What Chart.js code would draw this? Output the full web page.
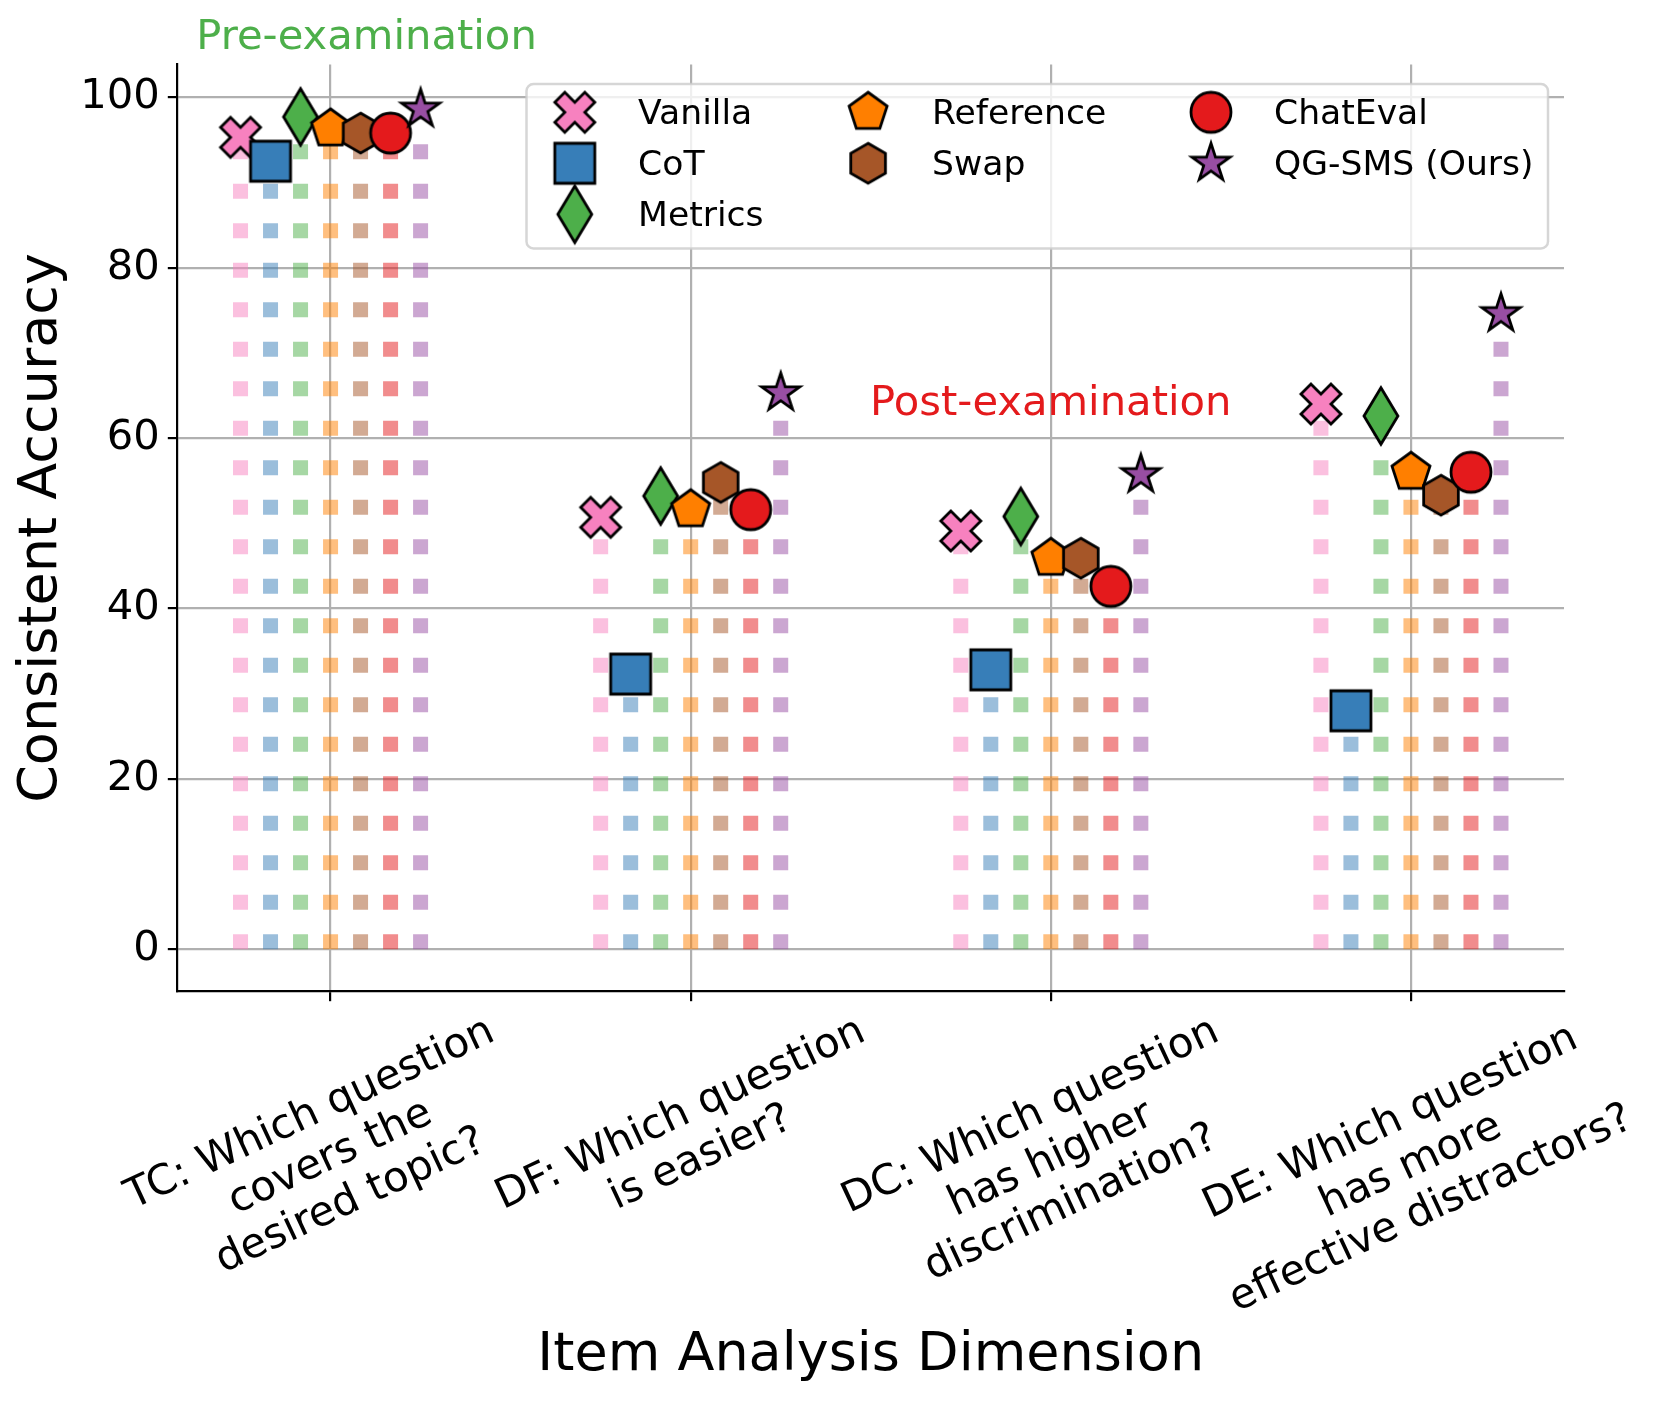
<!DOCTYPE html>
<html><head><meta charset="utf-8">
<script src="https://cdn.jsdelivr.net/npm/chart.js@4.4.0/dist/chart.umd.min.js"></script>
<style>html,body{margin:0;padding:0;background:#fff;} canvas{display:block;}</style>
</head><body>
<canvas id="c" width="1661" height="1401"></canvas>
<script>
// ---------------- data ----------------
const categories = [
  ["TC: Which question", "covers the", "desired topic?"],
  ["DF: Which question", "is easier?"],
  ["DC: Which question", "has higher", "discrimination?"],
  ["DE: Which question", "has more", "effective distractors?"]
];
const seriesNames = ["Vanilla", "CoT", "Metrics", "Reference", "Swap", "ChatEval", "QG-SMS (Ours)"];
const vanilla   = [95.3, 50.7, 49.1, 64.0];
const cot       = [92.5, 32.3, 32.8, 28.0];
const metrics   = [97.7, 53.2, 50.8, 62.6];
const reference = [96.3, 51.6, 45.9, 56.0];
const swap      = [95.8, 54.8, 45.9, 53.3];
const chatEval  = [95.8, 51.6, 42.6, 56.0];
const qgSms     = [98.6, 65.3, 55.7, 74.6];
const yTicks = [0, 20, 40, 60, 80, 100];
const xTicks = [0, 1, 2, 3];
const annotations = [
  { text: "Pre-examination", x: 0.1, y: 105.7, color: "#4daf4a" },
  { text: "Post-examination", x: 2.0, y: 62.74, color: "#e41a1c" }
];

// ---------------- styles ----------------
const seriesValues = [vanilla, cot, metrics, reference, swap, chatEval, qgSms];
const colors = ['#f781bf', '#377eb8', '#4daf4a', '#ff7f00', '#a65628', '#e41a1c', '#984ea3'];
const markerShapes = ['X', 's', 'd', 'p', 'h', 'o', '*'];
const FONT = "'DejaVu Sans', 'Liberation Sans', sans-serif";

function rgba(hex, a) {
  const n = parseInt(hex.slice(1), 16);
  return `rgba(${(n >> 16) & 255},${(n >> 8) & 255},${n & 255},${a})`;
}

function makeMarker(shape, fill) {
  const M = 40, lw = 2.8, S = 72;
  const cv = document.createElement('canvas');
  cv.width = S; cv.height = S;
  const ctx = cv.getContext('2d');
  ctx.translate(S / 2, S / 2);
  ctx.beginPath();
  const poly = pts => { pts.forEach((p, i) => i ? ctx.lineTo(p[0], p[1]) : ctx.moveTo(p[0], p[1])); ctx.closePath(); };
  const regular = (n, r) => { const pts = []; for (let i = 0; i < n; i++) { const a = -Math.PI / 2 + i * 2 * Math.PI / n; pts.push([r * Math.cos(a), r * Math.sin(a)]); } return pts; };
  switch (shape) {
    case 'o': ctx.arc(0, 0, M / 2, 0, 2 * Math.PI); break;
    case 's': ctx.rect(-M / 2, -M / 2, M, M); break;
    case 'd': { const h = M * Math.SQRT2 / 2, w = 0.6 * h; poly([[0, -h], [w, 0], [0, h], [-w, 0]]); break; }
    case 'p': poly(regular(5, M / 2)); break;
    case 'h': poly(regular(6, M / 2)); break;
    case '*': { const pts = []; for (let i = 0; i < 10; i++) { const r = i % 2 ? M / 2 * 0.381966 : M / 2; const a = -Math.PI / 2 + i * Math.PI / 5; pts.push([r * Math.cos(a), r * Math.sin(a)]); } poly(pts); break; }
    case 'X': { const v = [[-1,-2],[0,-1],[1,-2],[2,-1],[1,0],[2,1],[1,2],[0,1],[-1,2],[-2,1],[-1,0],[-2,-1]]; poly(v.map(p => [p[0] * M / 4, p[1] * M / 4])); break; }
  }
  ctx.fillStyle = fill; ctx.fill();
  ctx.lineWidth = lw; ctx.strokeStyle = '#000'; ctx.lineJoin = 'miter'; ctx.stroke();
  return cv;
}
const markerImages = markerShapes.map((s, i) => makeMarker(s, colors[i]));

// ---------------- datasets ----------------
const step = 1 / 12;
const datasets = [];
seriesValues.forEach((vals, s) => {
  const off = (s - 3) * step;
  vals.forEach((v, c) => {
    datasets.push({
      label: '', data: [{ x: c + off, y: 0 }, { x: c + off, y: v }],
      borderColor: rgba(colors[s], 0.5), borderWidth: 15, borderDash: [15, 24.5],
      borderCapStyle: 'butt', pointRadius: 0, order: 100, clip: false, tension: 0, fill: false
    });
  });
  datasets.push({
    label: seriesNames[s], showLine: false,
    data: vals.map((v, c) => ({ x: c + off, y: v })),
    pointStyle: markerImages[s], pointRadius: 20, order: 6 - s, clip: false
  });
});

// ---------------- plugins ----------------
const xLabelPlugin = {
  id: 'xLabels',
  afterDraw(chart) {
    const ctx = chart.ctx, xs = chart.scales.x;
    const fs = 41.7, ls = 1.148 * fs, th = 25 * Math.PI / 180;
    const y0 = chart.chartArea.bottom + 9.7 + 9.7;
    ctx.save();
    ctx.font = `${fs}px ${FONT}`;
    ctx.fillStyle = '#000';
    ctx.textAlign = 'center';
    ctx.textBaseline = 'alphabetic';
    categories.forEach((lines, i) => {
      const W = Math.max(...lines.map(l => ctx.measureText(l).width));
      const H = (lines.length - 1) * ls + 0.996 * fs;
      const bh = W * Math.sin(th) + H * Math.cos(th);
      const cx = xs.getPixelForValue(xTicks[i]);
      const cy = y0 + bh / 2;
      ctx.save();
      ctx.translate(cx, cy);
      ctx.rotate(-th);
      lines.forEach((l, k) => ctx.fillText(l, 0, -H / 2 + 0.76 * fs + k * ls));
      ctx.restore();
    });
    ctx.restore();
  }
};

const annotationPlugin = {
  id: 'annots',
  afterDraw(chart) {
    const ctx = chart.ctx, xs = chart.scales.x, ys = chart.scales.y;
    ctx.save();
    ctx.font = `41.7px ${FONT}`;
    ctx.textAlign = 'center';
    ctx.textBaseline = 'alphabetic';
    annotations.forEach(a => {
      ctx.fillStyle = a.color;
      ctx.fillText(a.text, xs.getPixelForValue(a.x), ys.getPixelForValue(a.y));
    });
    ctx.restore();
  }
};

const legendPlugin = {
  id: 'customLegend',
  afterDraw(chart) {
    const ctx = chart.ctx, ca = chart.chartArea;
    const x1 = ca.right - 16, x0 = x1 - 1021.5, y0 = ca.top + 19.5, y1 = y0 + 164.5, r = 7;
    ctx.save();
    ctx.beginPath();
    ctx.moveTo(x0 + r, y0); ctx.lineTo(x1 - r, y0); ctx.arcTo(x1, y0, x1, y0 + r, r);
    ctx.lineTo(x1, y1 - r); ctx.arcTo(x1, y1, x1 - r, y1, r);
    ctx.lineTo(x0 + r, y1); ctx.arcTo(x0, y1, x0, y1 - r, r);
    ctx.lineTo(x0, y0 + r); ctx.arcTo(x0, y0, x0 + r, y0, r);
    ctx.closePath();
    ctx.fillStyle = 'rgba(255,255,255,0.8)'; ctx.fill();
    ctx.lineWidth = 2.5; ctx.strokeStyle = 'rgba(204,204,204,0.8)'; ctx.stroke();
    const colMarkerX = [x0 + 48.3, x0 + 341.6, x0 + 684.5];
    const colTextX = [x0 + 111.6, x0 + 405.6, x0 + 747.5];
    const rowY = [y0 + 28.3, y0 + 79.3, y0 + 130.3];
    const layout = [[0, 0], [0, 1], [0, 2], [1, 0], [1, 1], [2, 0], [2, 1]];
    ctx.font = `34.6px ${FONT}`;
    ctx.fillStyle = '#000';
    ctx.textAlign = 'left';
    ctx.textBaseline = 'alphabetic';
    seriesNames.forEach((name, i) => {
      const [c, rr] = layout[i];
      const img = markerImages[i];
      ctx.drawImage(img, colMarkerX[c] - img.width / 2, rowY[rr] - img.height / 2);
      ctx.fillText(name, colTextX[c], rowY[rr] + 12);
    });
    ctx.restore();
  }
};

// ---------------- chart ----------------
Chart.defaults.font.family = FONT;
new Chart(document.getElementById('c'), {
  type: 'line',
  data: { datasets },
  options: {
    responsive: false, animation: false, devicePixelRatio: 1, events: [],
    layout: { padding: { left: 0, top: 64.5, right: 97, bottom: 0 } },
    plugins: { legend: { display: false }, tooltip: { enabled: false } },
    scales: {
      x: {
        type: 'linear', min: -0.425, max: 3.425,
        afterBuildTicks: s => { s.ticks = xTicks.map(v => ({ value: v })); },
        afterFit: s => { s.height = 409.5; },
        ticks: { display: false },
        grid: { color: '#b0b0b0', lineWidth: 2.2, drawTicks: true, tickLength: 9.7, tickColor: '#000', tickWidth: 2.2 },
        border: { display: true, color: '#000', width: 2.2 },
        title: { display: true, text: 'Item Analysis Dimension', color: '#000', font: { size: 54, family: FONT }, padding: { top: 0, bottom: 13 } }
      },
      y: {
        type: 'linear', min: -4.95, max: 103.85,
        afterBuildTicks: s => { s.ticks = yTicks.map(v => ({ value: v })); },
        afterFit: s => { s.width = 177.5; },
        ticks: { color: '#000', font: { size: 41.7, family: FONT }, padding: 8 },
        grid: { color: '#b0b0b0', lineWidth: 2.2, drawTicks: true, tickLength: 9.7, tickColor: '#000', tickWidth: 2.2 },
        border: { display: true, color: '#000', width: 2.2 },
        title: { display: true, text: 'Consistent Accuracy', color: '#000', font: { size: 54, family: FONT }, padding: { top: 10, bottom: 0 } }
      }
    }
  },
  plugins: [xLabelPlugin, annotationPlugin, legendPlugin]
});
</script>
</body></html>
